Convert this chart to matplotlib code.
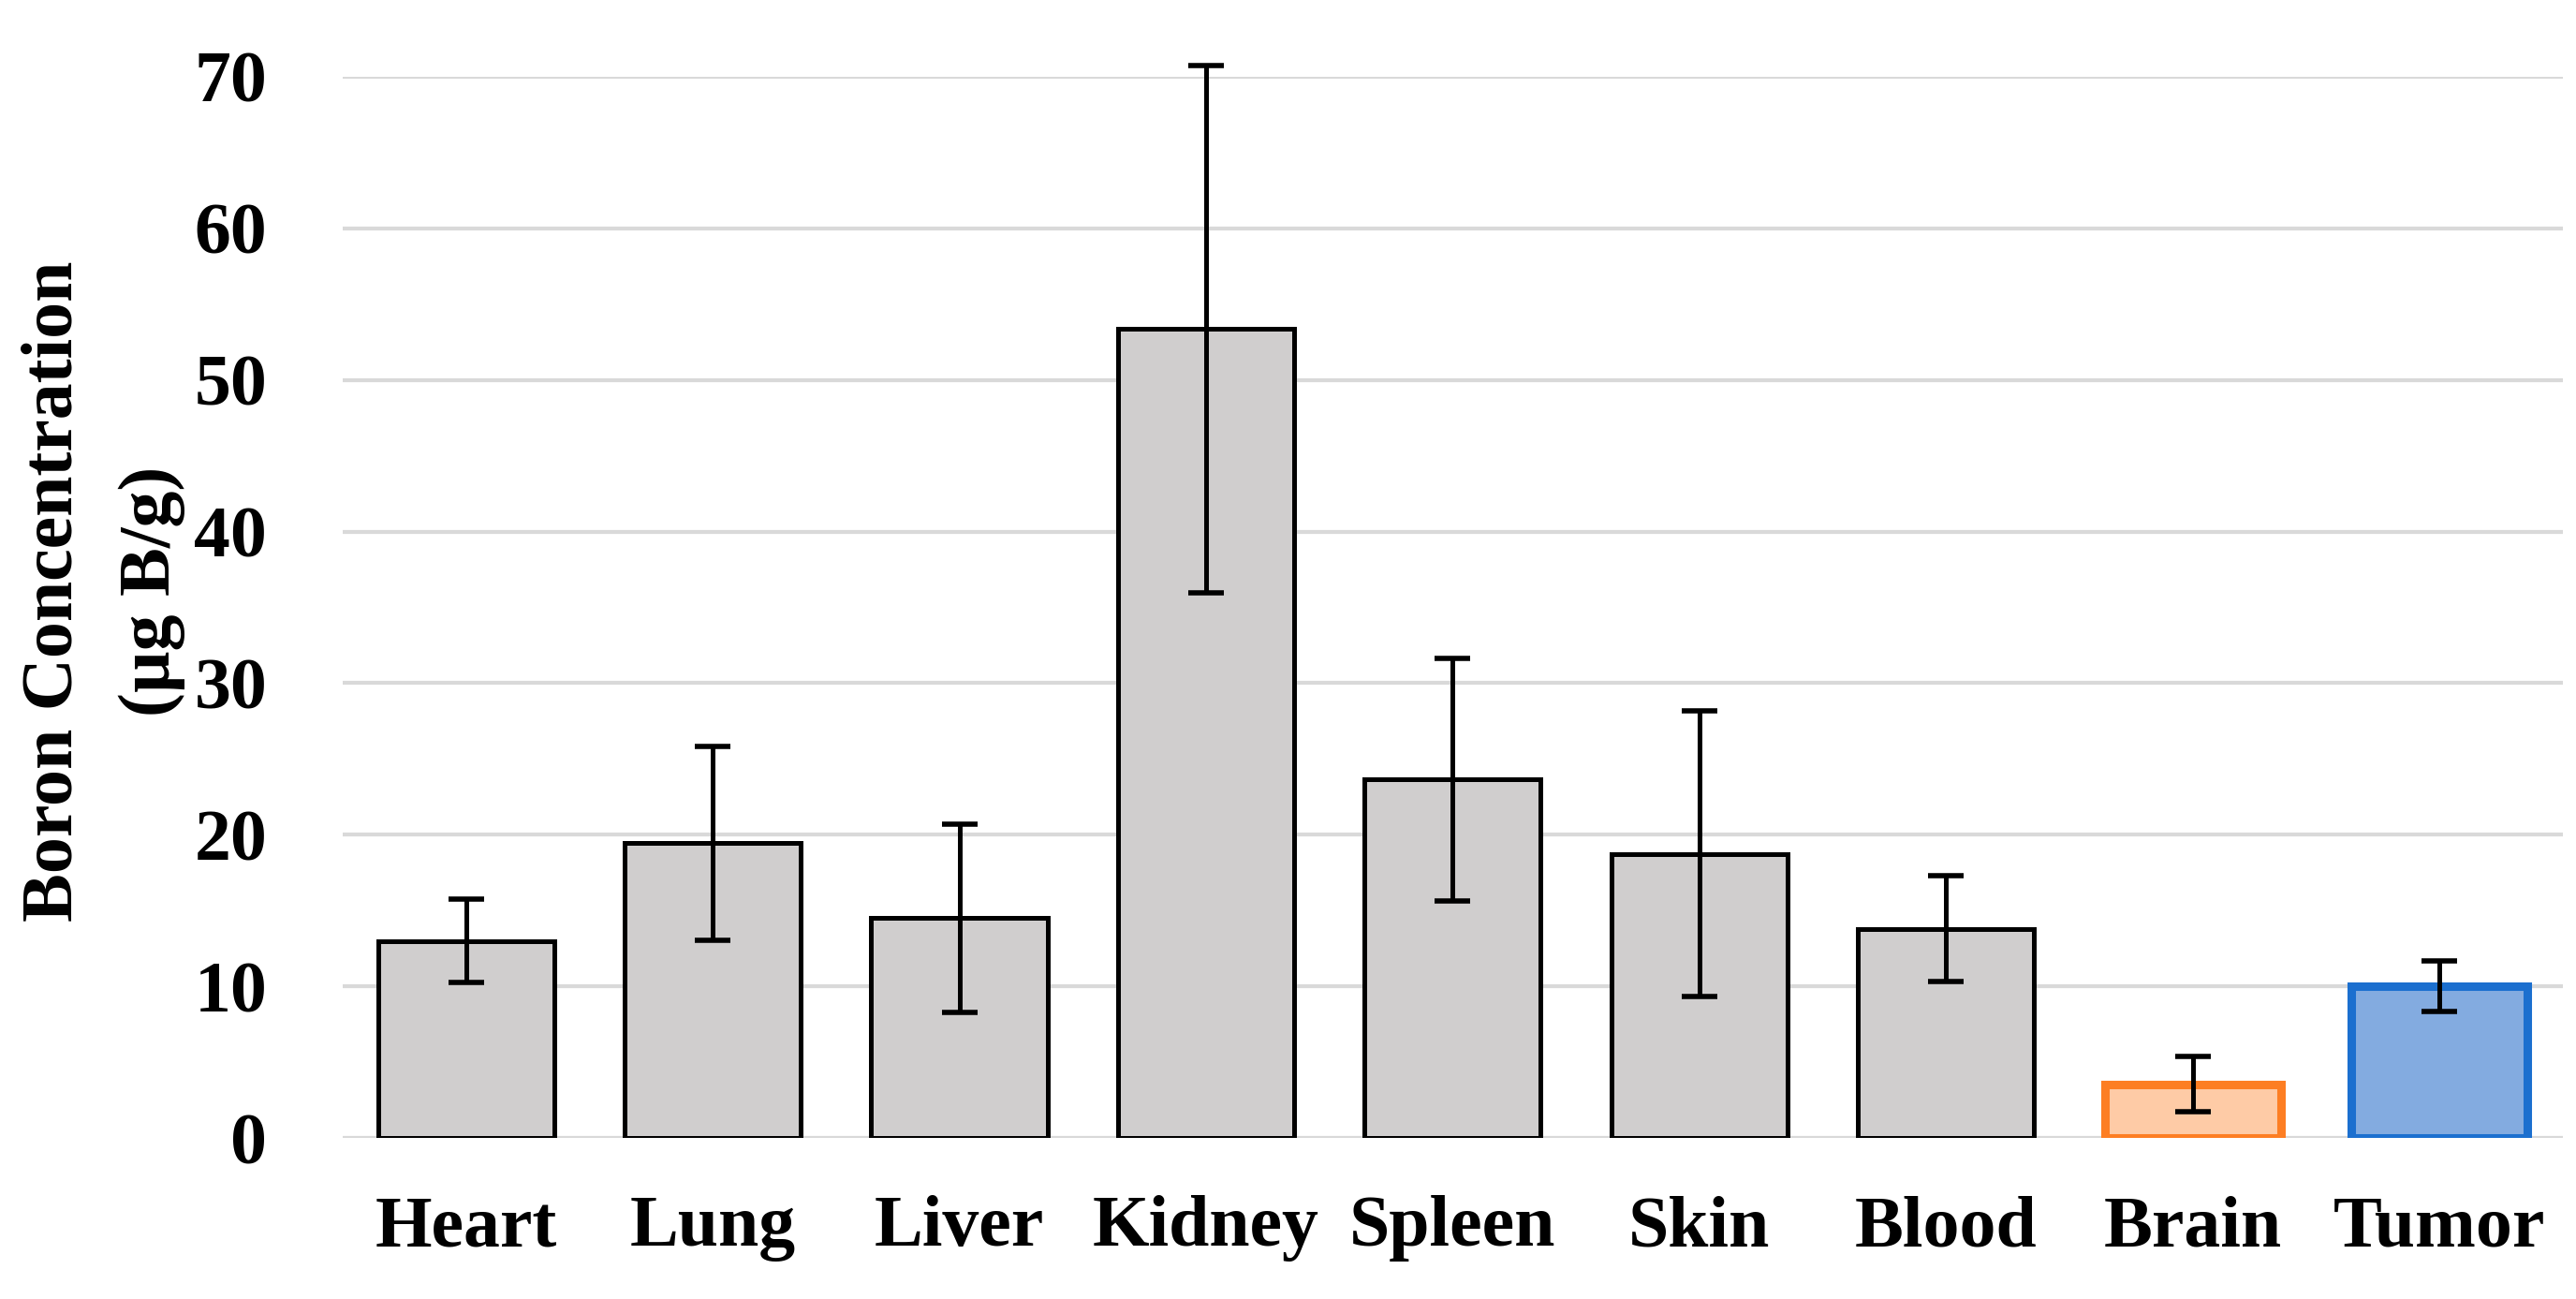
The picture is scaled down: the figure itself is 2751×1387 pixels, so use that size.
import matplotlib.pyplot as plt

organs = ["Heart", "Lung", "Liver", "Kidney", "Spleen", "Skin", "Blood", "Brain", "Tumor"]
boron = [13.0, 19.45, 14.5, 53.35, 23.65, 18.75, 13.8, 3.55, 10.0]
boron_err = [2.75, 6.4, 6.2, 17.4, 8.0, 9.4, 3.5, 1.8, 1.65]
y_ticks = [0, 10, 20, 30, 40, 50, 60, 70]

fills = ["#d0cece"] * 7 + ["#fecba6", "#83abe0"]
edges = ["#000000"] * 7 + ["#fd7e23", "#1b6fcf"]
edge_widths = [3.6] * 7 + [6.5, 6.5]

plt.rcParams["font.family"] = ["Liberation Serif", "DejaVu Serif"]
plt.rcParams["font.weight"] = "bold"

fig = plt.figure(figsize=(27.51, 13.87), dpi=100)
ax = fig.add_axes([0.1330, 0.1240, 0.9949 - 0.1330, 0.9409 - 0.1240])

x = list(range(len(organs)))
ax.bar(x, boron, width=0.714, color=fills, edgecolor=edges,
       linewidth=edge_widths, zorder=2)
ax.errorbar(x, boron, yerr=boron_err, fmt="none", ecolor="black",
            elinewidth=3.6, capsize=14, capthick=4.0, zorder=3, clip_on=False)

ax.set_xlim(-0.5, len(organs) - 0.5)
ax.set_ylim(0, 70)
ax.set_yticks(y_ticks)
ax.set_xticks(x)
ax.set_xticklabels(organs)
ax.grid(axis="y", color="#d9d9d9", linewidth=3.0, zorder=0)
ax.set_axisbelow(True)
for s in ax.spines.values():
    s.set_visible(False)
ax.tick_params(axis="both", length=0, labelsize=56)
ax.tick_params(axis="y", pad=58)
ax.tick_params(axis="x", pad=44)
for lab in ax.get_xticklabels() + ax.get_yticklabels():
    lab.set_fontweight("bold")

# two-line axis title, placed by hand like the Excel original
fig.text(58 / 2751, 1 - 631 / 1387, "Boron Concentration", rotation=90,
         ha="center", va="center", fontsize=56, fontweight="bold")
fig.text(162 / 2751, 1 - 631 / 1387, "(µg B/g)", rotation=90,
         ha="center", va="center", fontsize=56, fontweight="bold")

fig.savefig("out.png", dpi=100)
